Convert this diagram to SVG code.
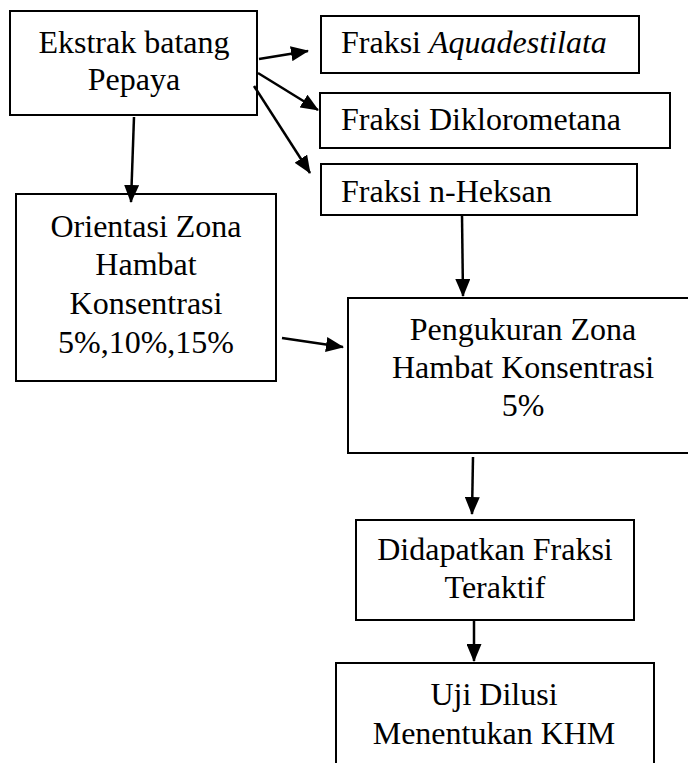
<svg xmlns="http://www.w3.org/2000/svg" width="688" height="763" viewBox="0 0 688 763">
<style>
.box{fill:#fff;stroke:#000;stroke-width:2}
.t{font-family:"Liberation Serif","Times New Roman",serif;font-size:32px;fill:#000}
.c{text-anchor:middle}
.ln{stroke:#000;stroke-width:2.5;fill:none;marker-end:url(#ah)}
</style>
<defs>
<marker id="ah" markerUnits="userSpaceOnUse" markerWidth="18" markerHeight="15" refX="17" refY="7.5" orient="auto">
<path d="M0,0 L18,7.5 L0,15 z" fill="#000"/>
</marker>
</defs>
<rect width="688" height="763" fill="#fff"/>
<g id="n1">
<rect class="box" x="10" y="11" width="247" height="104"/>
<text class="t c" x="134" y="53">Ekstrak batang</text>
<text class="t c" x="134" y="90">Pepaya</text>
</g>
<g id="n2">
<rect class="box" x="321" y="16" width="318" height="57"/>
<text class="t" x="341" y="53">Fraksi <tspan font-style="italic">Aquadestilata</tspan></text>
</g>
<g id="n3">
<rect class="box" x="320" y="93" width="350" height="55"/>
<text class="t" x="341" y="130">Fraksi Diklorometana</text>
</g>
<g id="n4">
<rect class="box" x="321" y="164" width="316" height="51"/>
<text class="t" x="341" y="202">Fraksi n-Heksan</text>
</g>
<g id="n5">
<rect class="box" x="16" y="194" width="260" height="187"/>
<text class="t c" x="146" y="237">Orientasi Zona</text>
<text class="t c" x="146" y="275">Hambat</text>
<text class="t c" x="146" y="314">Konsentrasi</text>
<text class="t c" x="146" y="353">5%,10%,15%</text>
</g>
<g id="n6">
<rect class="box" x="348" y="298" width="360" height="155"/>
<text class="t c" x="523" y="340">Pengukuran Zona</text>
<text class="t c" x="523" y="378">Hambat Konsentrasi</text>
<text class="t c" x="523" y="416">5%</text>
</g>
<g id="n7">
<rect class="box" x="356" y="520" width="278" height="100"/>
<text class="t c" x="495" y="560">Didapatkan Fraksi</text>
<text class="t c" x="495" y="598">Teraktif</text>
</g>
<g id="n8">
<rect class="box" x="336" y="663" width="318" height="120"/>
<text class="t c" x="494" y="705">Uji Dilusi</text>
<text class="t c" x="494" y="744">Menentukan KHM</text>
</g>
<g id="connectors">
<line class="ln" x1="259" y1="59" x2="308" y2="51"/>
<line class="ln" x1="258" y1="73" x2="318" y2="110"/>
<line class="ln" x1="254" y1="86" x2="310" y2="173"/>
<line class="ln" x1="134" y1="117" x2="131" y2="202"/>
<line class="ln" x1="282" y1="338" x2="343" y2="347"/>
<line class="ln" x1="462" y1="215" x2="463" y2="296"/>
<line class="ln" x1="473" y1="457" x2="472" y2="514"/>
<line class="ln" x1="474" y1="620" x2="474" y2="661"/>
</g>
</svg>
